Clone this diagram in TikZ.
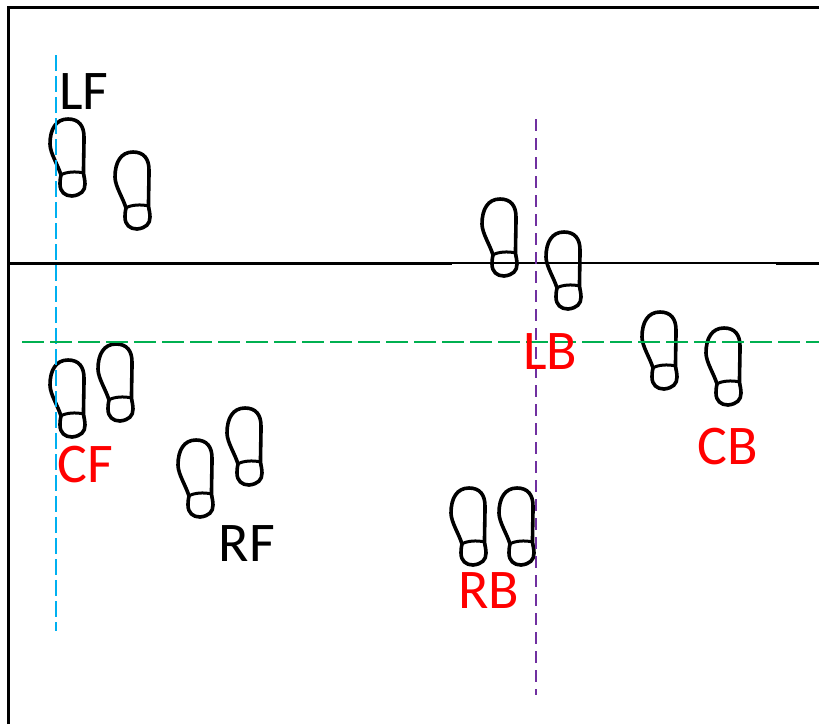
\documentclass[tikz,border=0pt]{standalone}
\usepackage{fontspec}
\setmainfont{Carlito}
\definecolor{cyanline}{RGB}{0,176,240}
\definecolor{purpleline}{RGB}{112,48,160}
\definecolor{greenline}{RGB}{0,176,80}
\tikzset{
  x=1pt,y=-1pt,
  footline/.style={line width=3.6pt,black,line join=round},
  foot/.pic={
    \draw[footline] (20,2) .. controls (31,2) and (36,9) .. (36,20)
      .. controls (36,32) and (35.5,45) .. (35.5,56)
      .. controls (36,60) and (37,63) .. (37,67)
      .. controls (37,74) and (33,78) .. (24,79)
      .. controls (17,79) and (12,75) .. (12,67)
      .. controls (12,63) and (12.5,60) .. (13,58)
      .. controls (10,48) and (2,36) .. (2,27)
      .. controls (2,12) and (8,2) .. (20,2) -- cycle;
    \draw[footline,line width=3pt] (13,58) .. controls (17,55) and (28,54) .. (35.5,56);
  },
  lbl/.style={font=\fontsize{56}{56}\selectfont,inner sep=0pt},
  redlbl/.style={lbl,text=red},
  frameline/.style={line width=3pt,black},
  guide/.style={line width=2pt}
}
\begin{document}
\begin{tikzpicture}
\useasboundingbox (0,0) rectangle (819,724);
\fill[white] (0,0) rectangle (819,724);
\coordinate (fbl) at (8.5,724);
\coordinate (ftl) at (8.5,7);
\coordinate (ftr) at (819,7);
\draw[frameline] (fbl) -- (ftl) -- (ftr);
\coordinate (ml) at (8.5,263);
\coordinate (ma) at (452,263);
\coordinate (mb) at (776,263);
\coordinate (mr) at (819,263);
\draw[frameline] (ml) -- (ma);
\draw[line width=1.8pt,black] (ma) -- (mb);
\draw[frameline] (mb) -- (mr);
\pic at (48,117) {foot};
\pic at (113,150) {foot};
\pic at (480,197) {foot};
\pic at (544,230) {foot};
\pic at (640,310) {foot};
\pic at (704,326) {foot};
\pic at (48,358) {foot};
\pic at (96,342) {foot};
\pic at (176,438) {foot};
\pic at (225,406) {foot};
\pic at (449,486) {foot};
\pic at (497,486) {foot};
\coordinate (ct) at (56,55);
\coordinate (cb) at (56,631);
\draw[guide,cyanline,dash pattern=on 16pt off 5pt] (ct) -- (cb);
\coordinate (pt) at (536,119);
\coordinate (pb) at (536,695);
\draw[guide,purpleline,dash pattern=on 12pt off 7pt] (pt) -- (pb);
\coordinate (gl) at (22,342);
\coordinate (gr) at (819,342);
\draw[guide,greenline,dash pattern=on 22pt off 6pt] (gl) -- (gr);
\node[lbl] (LF) at (84,92) {LF};
\node[redlbl] (CF) at (85,465) {CF};
\node[lbl] (RF) at (247,544) {RF};
\node[redlbl] (LB) at (550,352) {LB};
\node[redlbl] (CB) at (728,447) {CB};
\node[redlbl] (RB) at (489,591) {RB};
\end{tikzpicture}
\end{document}
